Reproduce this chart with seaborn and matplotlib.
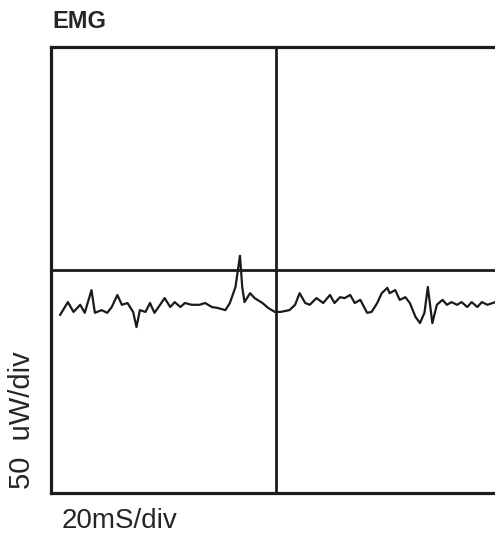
import matplotlib
matplotlib.use("Agg")
import matplotlib.pyplot as plt
import seaborn as sns
import pandas as pd

# EMG trace: time (ms) and amplitude (uV)
time_ms = [0.8, 1.5, 2.0, 2.6, 3.0, 3.6, 3.9, 4.5, 5.0, 5.4, 5.9, 6.3, 6.8, 7.3, 7.6,
           7.9, 8.4, 8.8, 9.2, 9.7, 10.1, 10.6, 11.0, 11.5, 11.9, 12.5, 13.2, 13.7,
           14.3, 14.8, 15.5, 15.9, 16.4, 16.8, 17.0, 17.2, 17.7, 18.1, 18.8, 19.3,
           19.9, 20.4, 21.2, 21.7, 22.1, 22.6, 23.0, 23.6, 24.2, 24.8, 25.2, 25.7,
           26.1, 26.6, 27.0, 27.5, 28.1, 28.5, 29.0, 29.4, 29.9, 30.1, 30.6, 31.0,
           31.5, 31.9, 32.4, 32.8, 33.2, 33.5, 33.9, 34.3, 34.8, 35.2, 35.6, 36.1,
           36.5, 37.0, 37.4, 37.9, 38.3, 38.8, 39.5]
amp_uv = [-10.1, -7.2, -9.4, -7.8, -9.6, -4.5, -9.6, -9.0, -9.6, -8.3, -5.6, -7.8, -7.4,
          -9.4, -12.8, -9.0, -9.4, -7.4, -9.6, -7.8, -6.3, -8.3, -7.2, -8.3, -7.4,
          -7.8, -7.8, -7.4, -8.3, -8.5, -9.0, -7.4, -3.8, 3.2, -3.8, -7.2, -5.2,
          -6.3, -7.4, -8.5, -9.4, -9.4, -9.0, -7.8, -5.2, -7.4, -7.8, -6.3, -7.4,
          -5.6, -7.4, -6.1, -6.3, -5.6, -7.4, -6.7, -9.6, -9.4, -7.4, -5.2, -4.0,
          -5.2, -4.5, -6.7, -6.1, -7.4, -10.5, -11.9, -9.6, -3.8, -11.9, -7.8,
          -6.7, -7.8, -7.2, -7.8, -7.2, -8.3, -7.2, -8.3, -7.2, -7.8, -7.2]

title_text = "EMG"
x_label = "20mS/div"
y_label = "50  uW/div"
ms_per_div = 20
uv_per_div = 50

df = pd.DataFrame({"t": time_ms, "a": amp_uv})

sns.set_style("white")
plt.rcParams["font.family"] = ["Liberation Sans", "DejaVu Sans"]

W, H = 495, 535
fig = plt.figure(figsize=(W / 100, H / 100), dpi=100)
ax = fig.add_axes([51 / W, (H - 493) / H, 444 / W, 446 / H])

sns.lineplot(data=df, x="t", y="a", ax=ax, color="#1a1a1a", linewidth=1.6,
             sort=False, estimator=None)

ink = "#1c1c1c"
ax.axvline(ms_per_div, color=ink, linewidth=2.0)
ax.axhline(0, color=ink, linewidth=2.0)

ax.set_xlim(0, 39.47)
ax.set_ylim(-uv_per_div, uv_per_div)
ax.set_xticks([])
ax.set_yticks([])
ax.set_xlabel("")
ax.set_ylabel("")
for side in ["left", "top", "bottom"]:
    ax.spines[side].set_visible(True)
    ax.spines[side].set_color(ink)
    ax.spines[side].set_linewidth(2.3)
ax.spines["right"].set_visible(False)

fig.text(52 / W, 1 - 28 / H, title_text, fontsize=17, color="#262626",
         ha="left", va="baseline", fontweight="bold")
fig.text(62 / W, (H - 528) / H, x_label, fontsize=20, color="#262626",
         ha="left", va="baseline")
fig.text(36 / W, (H - 489) / H, y_label, fontsize=21, color="#262626",
         ha="right", va="bottom", rotation=90)

fig.savefig("out.png", dpi=100)
